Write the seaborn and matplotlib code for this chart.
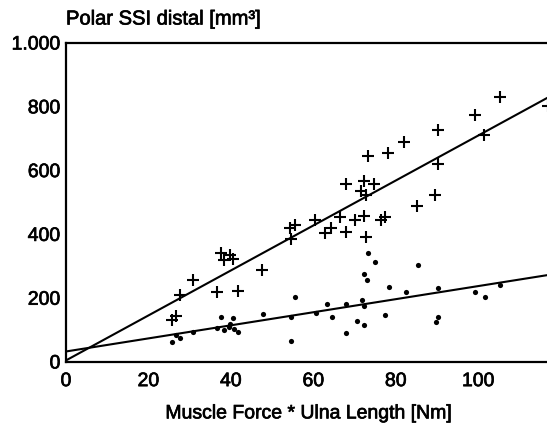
import numpy as np
import pandas as pd
import matplotlib
matplotlib.use("Agg")
import matplotlib.pyplot as plt
import matplotlib.patheffects as pe
import seaborn as sns

# Polar SSI (crosses)
ssi_x = [25.7, 26.8, 27.6, 30.8, 36.7, 37.6, 38.3, 39.8, 40.6, 41.8, 47.5,
         54.6, 54.4, 55.6, 60.5, 62.9, 64.3, 66.4, 68.0, 67.8, 70.2, 71.5,
         72.4, 72.4, 72.7, 72.7, 73.2, 74.7, 76.3, 77.3, 78.1, 82.0, 85.1,
         89.5, 90.2, 90.2, 99.1, 101.4, 105.2, 117.0]
ssi_y = [132, 144, 210, 257, 218, 341, 320, 335, 322, 223, 288,
         385, 419, 429, 445, 403, 419, 453, 406, 558, 445, 536,
         567, 458, 393, 525, 646, 557, 445, 453, 654, 690, 490,
         525, 622, 727, 774, 712, 832, 803]

# second variable (dots)
dot_x = [25.8, 26.8, 27.7, 30.8, 36.7, 37.7, 38.3, 39.6, 39.9, 40.6, 40.7,
         41.8, 47.7, 54.6, 54.6, 55.6, 60.7, 63.3, 64.6, 68.0, 68.0, 70.5,
         71.7, 72.4, 72.4, 72.4, 72.9, 73.3, 75.0, 77.4, 78.4, 82.4, 85.3,
         89.8, 90.3, 90.3, 99.3, 101.7, 105.2]
dot_y = [62, 85, 76, 93, 106, 142, 100, 111, 119, 137, 102,
         93, 150, 142, 66, 205, 153, 181, 140, 90, 182, 129,
         194, 176, 116, 275, 257, 341, 314, 146, 234, 220, 304,
         126, 142, 233, 220, 203, 241]

# regression lines (intercept, slope)
line_intercepts = [5, 33]
line_slopes = [7.05, 2.05]

x_ticks = [0, 20, 40, 60, 80, 100]
y_ticks = [0, 200, 400, 600, 800, 1000]
y_ticklabels = ["0", "200", "400", "600", "800", "1.000"]

sns.set_style("white")
plt.rcParams['font.family'] = ['Liberation Sans', 'DejaVu Sans']
plt.rcParams['text.color'] = 'black'
plt.rcParams['xtick.color'] = 'black'
plt.rcParams['ytick.color'] = 'black'
plt.rcParams['axes.labelcolor'] = 'black'

fig = plt.figure(figsize=(5.47, 4.25), dpi=100)
ax = fig.add_axes([66/547, 63/425, 1 - 66/547 + 0.01, (362-43)/425])

df_c = pd.DataFrame({"x": ssi_x, "y": ssi_y})
df_d = pd.DataFrame({"x": dot_x, "y": dot_y})

sns.scatterplot(data=df_c, x="x", y="y", marker="+", s=85, color="black",
                linewidth=1.5, ax=ax, zorder=3)
sns.scatterplot(data=df_d, x="x", y="y", marker="o", s=14, color="black",
                edgecolor="black", linewidth=0, ax=ax, zorder=3)

for b, m in zip(line_intercepts, line_slopes):
    ax.axline((0, b), slope=m, color="black", lw=1.5, zorder=2)

ax.set_xlim(0, 118)
ax.set_ylim(0, 1000)
ax.set_xticks(x_ticks)
ax.set_yticks(y_ticks)
ax.set_yticklabels(y_ticklabels)
ax.tick_params(axis="x", length=0, labelsize=14, pad=8)
ax.tick_params(axis="y", length=0, labelsize=14, pad=4)
for s in ["left", "bottom", "top"]:
    ax.spines[s].set_linewidth(1.6)
    ax.spines[s].set_color("black")
ax.spines["right"].set_visible(False)

thick = [pe.withStroke(linewidth=0.5, foreground="black")]
ax.set_xlabel("Muscle Force * Ulna Length [Nm]", fontsize=14, labelpad=11)
ax.xaxis.label.set_path_effects(thick)
ax.set_ylabel("")
fig.text(66/547, 1 - 19/425, "Polar SSI distal [mm³]", fontsize=14.5,
         ha="left", va="center", path_effects=thick)
for lab in ax.get_xticklabels() + ax.get_yticklabels():
    lab.set_path_effects(thick)

fig.savefig("out.png", dpi=100)
